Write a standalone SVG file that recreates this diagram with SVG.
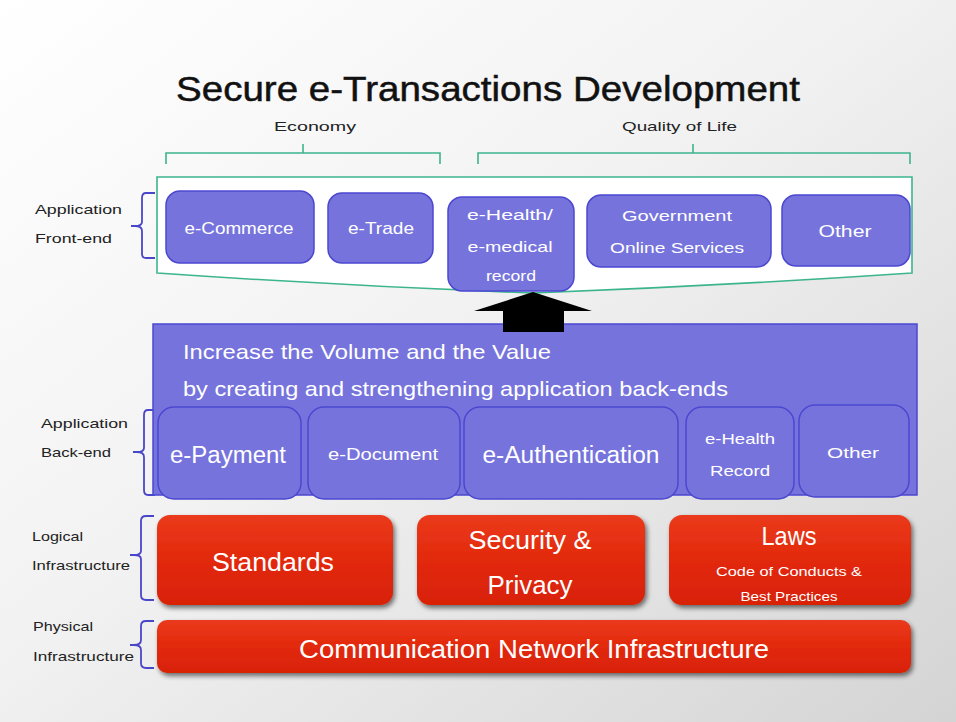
<svg xmlns="http://www.w3.org/2000/svg" width="956" height="722" viewBox="0 0 956 722">
  <defs>
    <linearGradient id="bg" x1="0" y1="0" x2="1" y2="1">
      <stop offset="0" stop-color="#ffffff"/>
      <stop offset="0.45" stop-color="#f2f2f2"/>
      <stop offset="1" stop-color="#d4d4d4"/>
    </linearGradient>
    <linearGradient id="redFill" x1="0" y1="0" x2="0" y2="1">
      <stop offset="0" stop-color="#ea3a1c"/>
      <stop offset="0.5" stop-color="#e2290b"/>
      <stop offset="1" stop-color="#d82206"/>
    </linearGradient>
    <filter id="shadow" x="-5%" y="-10%" width="115%" height="130%">
      <feGaussianBlur in="SourceAlpha" stdDeviation="2.5"/>
      <feOffset dx="2" dy="3" result="b"/>
      <feComponentTransfer><feFuncA type="linear" slope="0.55"/></feComponentTransfer>
      <feMerge><feMergeNode/><feMergeNode in="SourceGraphic"/></feMerge>
    </filter>
    <style>
      text { font-family: "Liberation Sans", "DejaVu Sans", sans-serif; }
      .title { font-size: 35px; fill: #111; stroke: #111; stroke-width: 0.5; }
      .cap { font-size: 13px; fill: #222; }
      .side { font-size: 13px; fill: #222; }
      .blue { fill: #7674dc; stroke: #4b47cf; stroke-width: 1.5; }
      .red { fill: url(#redFill); filter: url(#shadow); }
      .wt { fill: #ffffff; text-anchor: middle; }
      .bl { fill: #ffffff; }
      .green { fill: none; stroke: #3cb58e; stroke-width: 1.6; }
      .brace { fill: none; stroke: #4a46c8; stroke-width: 1.8; }
    </style>
  </defs>

  <!-- backdrop -->
  <rect x="0" y="0" width="956" height="722" fill="url(#bg)"/>

  <!-- heading and groupings -->
  <text class="title" x="176" y="101" textLength="624" lengthAdjust="spacingAndGlyphs">Secure e-Transactions Development</text>
  <text class="cap" x="274" y="131" textLength="82" lengthAdjust="spacingAndGlyphs">Economy</text>
  <text class="cap" x="622" y="131" textLength="115" lengthAdjust="spacingAndGlyphs">Quality of Life</text>
  <path class="green" d="M166,164 V153 H440 V164 M303,153 V144"/>
  <path class="green" d="M478,164 V153 H910 V164 M693,153 V144"/>

  <!-- side labels with braces -->
  <g id="label-frontend">
    <text class="side" x="35" y="214" textLength="87" lengthAdjust="spacingAndGlyphs">Application</text>
    <text class="side" x="35" y="243" textLength="77" lengthAdjust="spacingAndGlyphs">Front-end</text>
    <path class="brace" d="M155,193 H146 Q142,193 142,198 V222 Q142,226 135,226 H131 M135,226 Q142,226 142,231 V254 Q142,258 146,258 H155"/>
  </g>
  <g id="label-backend">
    <text class="side" x="41" y="428" textLength="87" lengthAdjust="spacingAndGlyphs">Application</text>
    <text class="side" x="41" y="457" textLength="70" lengthAdjust="spacingAndGlyphs">Back-end</text>
    <path class="brace" d="M155,410 H148 Q144,410 144,415 V448 Q144,452 137,452 H133 M137,452 Q144,452 144,457 V490 Q144,495 148,495 H155"/>
  </g>
  <g id="label-logical">
    <text class="side" x="32" y="541" textLength="51" lengthAdjust="spacingAndGlyphs">Logical</text>
    <text class="side" x="32" y="570" textLength="98" lengthAdjust="spacingAndGlyphs">Infrastructure</text>
    <path class="brace" d="M154,516 H146 Q141,516 141,521 V551 Q141,555 134,555 H130 M134,555 Q141,555 141,559 V595 Q141,600 146,600 H154"/>
  </g>
  <g id="label-physical">
    <text class="side" x="33" y="631" textLength="60" lengthAdjust="spacingAndGlyphs">Physical</text>
    <text class="side" x="33" y="661" textLength="101" lengthAdjust="spacingAndGlyphs">Infrastructure</text>
    <path class="brace" d="M154,621 H146 Q141,621 141,626 V640 Q141,645 134,645 H130 M134,645 Q141,645 141,650 V663 Q141,668 146,668 H154"/>
  </g>

  <!-- front-end panel -->
  <g id="frontend-panel">
    <path d="M157,177 H912 V273 Q720,286 533,293 Q345,286 157,273 Z" fill="#ffffff" stroke="#3cb58e" stroke-width="1.6"/>
  </g>

  <g id="node-ecommerce">
    <rect class="blue" x="166" y="191" width="148" height="72" rx="14"/>
    <text class="wt" x="239" y="234" font-size="17" textLength="109" lengthAdjust="spacingAndGlyphs">e-Commerce</text>
  </g>
  <g id="node-etrade">
    <rect class="blue" x="328" y="193" width="105" height="70" rx="14"/>
    <text class="wt" x="381" y="234" font-size="17" textLength="66" lengthAdjust="spacingAndGlyphs">e-Trade</text>
  </g>
  <g id="node-ehealth">
    <rect class="blue" x="448" y="197" width="126" height="94" rx="14"/>
    <text class="wt" x="510" y="220" font-size="14" textLength="86" lengthAdjust="spacingAndGlyphs">e-Health/</text>
    <text class="wt" x="510" y="252" font-size="14" textLength="85" lengthAdjust="spacingAndGlyphs">e-medical</text>
    <text class="wt" x="511" y="281" font-size="14" textLength="50" lengthAdjust="spacingAndGlyphs">record</text>
  </g>
  <g id="node-government">
    <rect class="blue" x="587" y="195" width="184" height="72" rx="14"/>
    <text class="wt" x="677" y="221" font-size="15" textLength="110" lengthAdjust="spacingAndGlyphs">Government</text>
    <text class="wt" x="677" y="253" font-size="15" textLength="134" lengthAdjust="spacingAndGlyphs">Online Services</text>
  </g>
  <g id="node-other-front">
    <rect class="blue" x="782" y="195" width="128" height="71" rx="14"/>
    <text class="wt" x="845" y="237" font-size="16" textLength="53" lengthAdjust="spacingAndGlyphs">Other</text>
  </g>

  <!-- back-end band -->
  <g id="backend-panel">
    <rect x="153" y="324" width="764" height="171" fill="#7674dc" stroke="#4b47cf" stroke-width="1.5"/>
    <text class="bl" x="183" y="359" font-size="21" textLength="368" lengthAdjust="spacingAndGlyphs">Increase the Volume and the Value</text>
    <text class="bl" x="183" y="396" font-size="21" textLength="545" lengthAdjust="spacingAndGlyphs">by creating and strengthening application back-ends</text>
  </g>

  <!-- upward arrow linking back-ends to front-ends -->
  <g id="connectors">
    <path d="M503,332 V311 H474 L533,292 L592,311 H564 V332 Z" fill="#000000"/>
  </g>

  <g id="node-epayment">
    <rect class="blue" x="158" y="407" width="143" height="92" rx="16"/>
    <text class="wt" x="228" y="463" font-size="23" textLength="116" lengthAdjust="spacingAndGlyphs">e-Payment</text>
  </g>
  <g id="node-edocument">
    <rect class="blue" x="308" y="407" width="152" height="92" rx="16"/>
    <text class="wt" x="383" y="460" font-size="16" textLength="110" lengthAdjust="spacingAndGlyphs">e-Document</text>
  </g>
  <g id="node-eauthentication">
    <rect class="blue" x="464" y="407" width="214" height="92" rx="16"/>
    <text class="wt" x="571" y="463" font-size="23" textLength="177" lengthAdjust="spacingAndGlyphs">e-Authentication</text>
  </g>
  <g id="node-ehealth-record">
    <rect class="blue" x="686" y="407" width="108" height="92" rx="16"/>
    <text class="wt" x="740" y="444" font-size="15" textLength="70" lengthAdjust="spacingAndGlyphs">e-Health</text>
    <text class="wt" x="740" y="476" font-size="15" textLength="60" lengthAdjust="spacingAndGlyphs">Record</text>
  </g>
  <g id="node-other-back">
    <rect class="blue" x="799" y="405" width="110" height="92" rx="16"/>
    <text class="wt" x="853" y="458" font-size="15" textLength="52" lengthAdjust="spacingAndGlyphs">Other</text>
  </g>

  <!-- logical infrastructure -->
  <g id="node-standards">
    <rect class="red" x="157" y="515" width="236" height="90" rx="13"/>
    <text class="wt" x="273" y="571" font-size="26" textLength="122" lengthAdjust="spacingAndGlyphs">Standards</text>
  </g>
  <g id="node-security">
    <rect class="red" x="417" y="515" width="228" height="90" rx="13"/>
    <text class="wt" x="530" y="549" font-size="26" textLength="123" lengthAdjust="spacingAndGlyphs">Security &amp;</text>
    <text class="wt" x="530" y="594" font-size="26" textLength="85" lengthAdjust="spacingAndGlyphs">Privacy</text>
  </g>
  <g id="node-laws">
    <rect class="red" x="669" y="515" width="242" height="90" rx="13"/>
    <text class="wt" x="789" y="545" font-size="25" textLength="55" lengthAdjust="spacingAndGlyphs">Laws</text>
    <text class="wt" x="789" y="576" font-size="13" textLength="146" lengthAdjust="spacingAndGlyphs">Code of Conducts &amp;</text>
    <text class="wt" x="789" y="601" font-size="13" textLength="97" lengthAdjust="spacingAndGlyphs">Best Practices</text>
  </g>

  <!-- physical infrastructure -->
  <g id="node-network">
    <rect class="red" x="157" y="620" width="754" height="53" rx="10"/>
    <text class="wt" x="534" y="658" font-size="26" textLength="470" lengthAdjust="spacingAndGlyphs">Communication Network Infrastructure</text>
  </g>
</svg>
